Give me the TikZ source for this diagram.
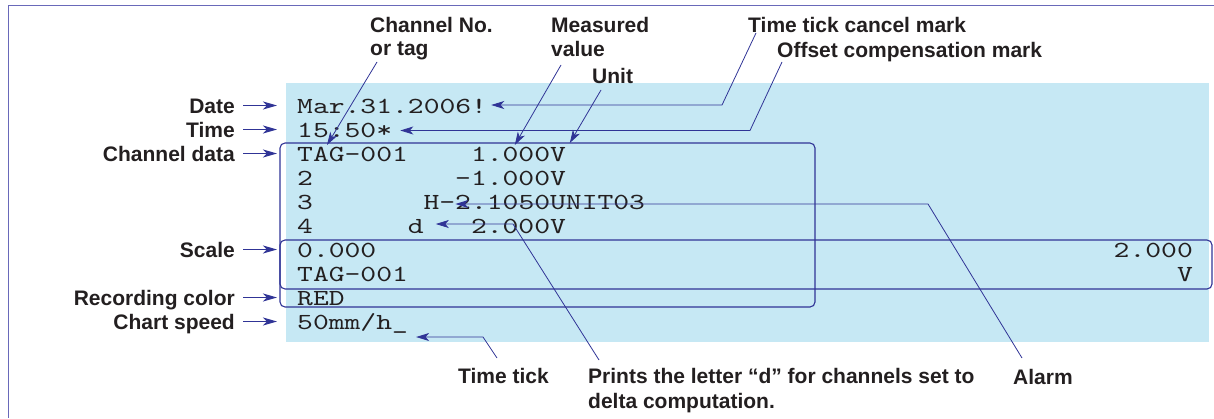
\documentclass[tikz,border=0pt]{standalone}
\usepackage{fontspec}
\setsansfont{Liberation Sans}
\newfontfamily\monofnt{lmmono10-regular}[Extension=.otf, FakeStretch=1.31]
\usetikzlibrary{arrows.meta,calc}
\definecolor{bgblue}{RGB}{198,232,244}
\definecolor{lnblue}{RGB}{48,52,150}
\definecolor{frameblue}{RGB}{105,105,185}
\definecolor{txt}{RGB}{35,31,32}
\begin{document}
\begin{tikzpicture}[x=1pt,y=-1pt,
  lab/.style={font=\sffamily\bfseries\fontsize{21}{24}\selectfont, text=txt, inner sep=0pt, text height=15pt, text depth=0pt},
  mono/.style={font=\monofnt\fontsize{23}{26}\selectfont, text=txt, inner sep=0pt, text height=14pt, text depth=0pt, anchor=base west},
  arr/.style={lnblue, line width=1.1pt, -{Stealth[length=14pt,width=8pt,inset=4pt]}},
  conn/.style={lnblue, line width=0.8pt, -{Stealth[length=13pt,width=8pt,inset=3.5pt]}},
  grp/.style={lnblue, line width=1.1pt, rounded corners=5pt},
]
\useasboundingbox (0,0) rectangle (1214,418);
\draw[frameblue, line width=1.5pt] (1214,5.5) -- (8.5,5.5) -- (8.5,418);
\fill[bgblue] (286,83) rectangle (1209,342);

% printed rows
\node[mono] (row0) at (297,113) {Mar.31.2006!};
\node[mono] (row1) at (297,137) {15:50*};
\node[mono] (r2a) at (297,161) {TAG-001};
\node[mono] (r2b) at (470.8,161) {1.000V};
\node[mono] (r3a) at (297,185) {2};
\node[mono] (r3b) at (455,185) {-1.000V};
\node[mono] (r4a) at (297,209) {3};
\node[mono] (r4b) at (423.4,209) {H-2.1050UNIT03};
\node[mono] (r5a) at (297,233) {4};
\node[mono] (r5b) at (407.6,233) {d};
\node[mono] (r5c) at (470.8,233) {2.000V};
\node[mono] (r6a) at (297,257) {0.000};
\node[mono, anchor=base east] (r6b) at (1193,257) {2.000};
\node[mono] (r7a) at (297,281) {TAG-001};
\node[mono, anchor=base east] (r7b) at (1193,281) {V};
\node[mono] (row8) at (297,305) {RED};
\node[mono] (row9) at (297,329) {50mm/h\_};

% group boxes
\draw[grp] (280,143) rectangle (815,307);
\draw[grp] (280,240) rectangle (1212,289);

% left labels
\node[lab, anchor=base east] (ldate) at (235,113) {Date};
\node[lab, anchor=base east] (ltime) at (235,137) {Time};
\node[lab, anchor=base east] (lchan) at (235,161) {Channel data};
\node[lab, anchor=base east] (lscale) at (235,257) {Scale};
\node[lab, anchor=base east] (lrec) at (235,305) {Recording color};
\node[lab, anchor=base east] (lspeed) at (235,329) {Chart speed};
\foreach \n in {ldate,ltime,lchan,lscale,lrec,lspeed}
  \draw[arr] ([xshift=8pt]\n.east) -- ([xshift=42pt]\n.east);

% top labels
\node[lab, anchor=base west] (chno1) at (370,32) {Channel No.};
\node[lab, anchor=base west] (chno2) at (370,55) {or tag};
\node[lab, anchor=base west] (meas1) at (551,32) {Measured};
\node[lab, anchor=base west] (meas2) at (551,56) {value};
\node[lab, anchor=base west] (unit) at (592,83) {Unit};
\node[lab, anchor=base west] (tcm) at (748,32) {Time tick cancel mark};
\node[lab, anchor=base west] (ocm) at (777,57) {Offset compensation mark};

% bottom labels
\node[lab, anchor=base west] (ttick) at (458,383) {Time tick};
\node[lab, anchor=base west] (delta1) at (588,383) {Prints the letter “d” for channels set to};
\node[lab, anchor=base west] (delta2) at (588,408) {delta computation.};
\node[lab, anchor=base west] (alarm) at (1013,384) {Alarm};

% connector start / corner points
\coordinate (chS) at (377,62);
\coordinate (meS) at (561,65);
\coordinate (unS) at (601,90);
\coordinate (tcS) at (756,33);
\coordinate (tcC) at (722,105);
\coordinate (ocS) at (782,62);
\coordinate (ocC) at (750,130.5);
\coordinate (alS) at (1022,358);
\coordinate (alC) at (928,204);
\coordinate (deS) at (599,360);
\coordinate (deC) at (513,224);
\coordinate (ttS) at (497,358);
\coordinate (ttC) at (483,337);

\draw[conn] (chS) -- ($(r2a.base west)+(30,-16)$);
\draw[conn] (meS) -- ($(r2b.base west)+(44,-16)$);
\draw[conn] (unS) -- ($(r2b.base west)+(99,-18)$);
\draw[conn] (tcS) -- (tcC) -- ($(row0.base east)+(4,-8)$);
\draw[conn] (ocS) -- (ocC) -- ($(row1.base east)+(8,-6.5)$);
\draw[conn] (alS) -- (alC) -- ($(r4b.base west)+(32,-5)$);
\draw[conn] (deS) -- (deC) -- ($(r5b.base east)+(12,-9)$);
\draw[conn] (ttS) -- (ttC) -- ($(row9.base east)+(8,8)$);
\end{tikzpicture}
\end{document}
